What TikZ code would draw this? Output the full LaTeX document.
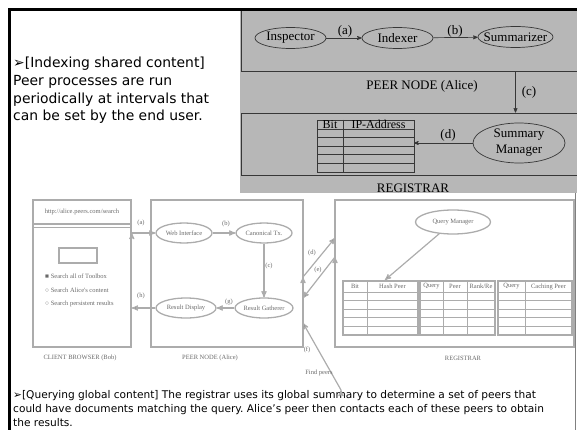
\documentclass[tikz,border=0pt]{standalone}
\usepackage{fontspec}
\setmainfont{DejaVu Sans}
\newfontfamily\figfont{Liberation Serif}
\usetikzlibrary{arrows}
\usetikzlibrary{shapes.geometric}
\usetikzlibrary{positioning}
\definecolor{panelgray}{RGB}{183,183,183}
\definecolor{boxline}{RGB}{55,55,55}
\definecolor{faintline}{RGB}{172,172,172}
\definecolor{fainttext}{RGB}{105,105,105}
\newcommand{\serifbig}{\figfont\fontsize{13}{16}\selectfont}
\newcommand{\seriftiny}{\figfont\fontsize{6.5}{7.5}\selectfont}
\frenchspacing

\begin{document}
\begin{tikzpicture}[x=1pt,y=-1pt,>=stealth',
    main node/.style={ellipse,draw=boxline,line width=0.7pt,inner sep=0pt,minimum width=71pt,minimum height=21pt,font=\serifbig},
    tag/.style={inner sep=0pt,font=\serifbig},
    sub node/.style={ellipse,draw=faintline,line width=1.3pt,inner sep=0pt,minimum width=56pt,minimum height=20pt,font=\seriftiny,text=fainttext},
    sub box/.style={rectangle,draw=faintline,line width=1.6pt,inner sep=0pt},
    sub tag/.style={inner sep=0pt,font=\seriftiny,text=fainttext},
    sub line/.style={draw=faintline,line width=1.2pt},
    grid line/.style={draw=boxline,line width=0.7pt}]
  \useasboundingbox (0,0) rectangle (577,430);

  % top right: peer node and registrar panel
  \fill[panelgray] (240,10) rectangle (577,193);
  \node[draw=boxline,line width=0.8pt,minimum width=336pt,minimum height=61pt,inner sep=0pt] (peerpanel) at (409,40.5) {};
  \node[draw=boxline,line width=0.8pt,minimum width=336pt,minimum height=62pt,inner sep=0pt] (regpanel) at (409,144) {};

  \node[main node] (insp) at (290.5,38) {Inspector};
  \node[main node] (indx) at (397.5,38) {Indexer};
  \node[main node,minimum width=75pt,label={[tag]center:Summarizer}] (summ) at (515.5,37) {};
  \node[main node,minimum width=92pt,minimum height=40pt,align=center] (sman) at (519,143) {Summary\\Manager};
  \coordinate (iptab) at (414,143);

  \path[->,boxline,line width=0.7pt] (insp) edge (indx);
  \path[->,boxline,line width=0.7pt] (indx) edge (summ);
  \path[->,boxline,line width=0.7pt] (peerpanel.south -| summ) edge (regpanel.north -| summ);
  \path[->,boxline,line width=0.7pt] (sman) edge (iptab);

  \node[tag] (la) at (345,31) {(a)};
  \node[tag] (lb) at (455,31) {(b)};
  \node[tag] (lc) at (529,92) {(c)};
  \node[tag] (ld) at (448,135) {(d)};
  \node[tag] (ptitle) at (422,86) {PEER NODE (Alice)};
  \node[tag,anchor=base] (rtitle) at (413,193) {REGISTRAR};

  % bit / ip table
  \draw[grid line] (317,120) rectangle (414,172);
  \foreach \y in {129,137.6,146.2,154.8,163.4}
    \draw[grid line] (317,\y) -- (414,\y);
  \draw[grid line] (343,120) -- (343,172);
  \node[tag,anchor=base,font=\figfont\fontsize{12}{14}\selectfont] (hbit) at (330,128.5) {Bit};
  \node[tag,anchor=base,font=\figfont\fontsize{12}{14}\selectfont] (hip) at (378.5,128.5) {IP-Address};

  % slide frame
  \draw[line width=3pt] (9.5,430) -- (9.5,9.5) -- (577,9.5);
  \draw[gray,line width=0.6pt] (575.5,193) -- (575.5,430);

  % slide texts
  \node[anchor=north west,inner sep=0pt,align=left,font=\fontsize{13.9}{17.7}\selectfont] (intro) at (13,57)
    {➢[Indexing shared content]\\Peer processes are run\\periodically at intervals that\\can be set by the end user.};
  \node[anchor=north west,inner sep=0pt,align=left,font=\fontsize{10.6}{14}\selectfont] (outro) at (13,390)
    {➢[Querying global content] The registrar uses its global summary to determine a set of peers that\\could have documents matching the query. Alice\symbol{39}s peer then contacts each of these peers to obtain\\the results.};

  % lower figure: browser, peer, registrar
  \node[sub box,minimum width=98pt,minimum height=147pt] (client) at (82,273.5) {};
  \node[sub box,minimum width=152pt,minimum height=147pt] (peer) at (227,273.5) {};
  \node[sub box,minimum width=239pt,minimum height=147pt] (reg) at (454.5,273.5) {};
  \node[sub tag] (ctitle) at (80,358) {CLIENT BROWSER (Bob)};
  \node[sub tag] (ntitle) at (210,358) {PEER NODE (Alice)};
  \node[sub tag] (gtitle) at (463,358) {REGISTRAR};

  % browser contents
  \draw[sub line] (client.north west |- 0,224) -- (client.north east |- 0,224);
  \draw[sub line,line width=0.6pt] (client.north west |- 0,227) -- (client.north east |- 0,227);
  \node[sub tag] (url) at (82,212) {http://alice.peers.com/search};
  \draw[sub line] (59,248) rectangle (97,263);
  \node[sub tag,anchor=west] (opta) at (45,276) {■ Search all of Toolbox};
  \node[sub tag,anchor=west] (optb) at (45,290) {○ Search Alice\symbol{39}s content};
  \node[sub tag,anchor=west] (optc) at (45,304) {○ Search persistent results};

  % peer contents
  \node[sub node] (web) at (184,233) {Web Interface};
  \node[sub node] (canon) at (264,233) {Canonical Tx.};
  \node[sub node] (gath) at (264,308) {Result Gatherer};
  \node[sub node,minimum width=60pt] (disp) at (186,308) {Result Display};

  \path[->,sub line] (client.east |- web) edge (web);
  \path[->,sub line] (web) edge (canon);
  \path[->,sub line] (canon) edge (gath);
  \path[->,sub line] (gath) edge (disp);
  \path[->,sub line] (disp) edge (client.east |- disp);
  \node[sub tag] (sa) at (141,223) {(a)};
  \node[sub tag] (sb) at (226,224) {(b)};
  \node[sub tag] (sc) at (269,266) {(c)};
  \node[sub tag] (sg) at (229,302) {(g)};
  \node[sub tag] (sh) at (141,296) {(h)};

  % registrar contents
  \node[sub node,minimum width=75pt,minimum height=24pt] (qman) at (453,222) {Query Manager};
  \coordinate (qtab) at (385,280);
  \path[->,sub line] (qman) edge (qtab);
  \foreach \xa/\xb in {343/418,420/495,498/572} {
    \draw[sub line] (\xa,281) rectangle (\xb,335);
    \foreach \y in {292,300.6,309.2,317.8,326.4}
      \draw[sub line,line width=0.8pt] (\xa,\y) -- (\xb,\y);
  }
  \foreach \x in {367,443,467,525}
    \draw[sub line,line width=0.8pt] (\x,281) -- (\x,335);
  \node[sub tag] (tbit) at (355,286.5) {Bit};
  \node[sub tag] (thash) at (392.5,286.5) {Hash Peer};
  \node[sub tag] (tqa) at (431.5,286.5) {Query};
  \node[sub tag] (tpeer) at (455,286.5) {Peer};
  \node[sub tag] (trank) at (481,286.5) {Rank/Re};
  \node[sub tag] (tqb) at (511.5,286.5) {Query};
  \node[sub tag] (tcache) at (548.5,286.5) {Caching Peer};

  % peer <-> registrar
  \coordinate (pd) at (303,277);
  \coordinate (rd) at (335,238);
  \coordinate (re) at (335,257);
  \coordinate (pe) at (303,298);
  \coordinate (pf) at (303,323);
  \coordinate (fend) at (341,390);
  \path[->,sub line] (pd) edge (rd);
  \path[->,sub line] (re) edge (pe);
  \path[->,sub line] (fend) edge (pf);
  \node[sub tag] (sd) at (312,253) {(d)};
  \node[sub tag] (se) at (318,270) {(e)};
  \node[sub tag] (sf) at (307,350) {(f)};
  \node[sub tag] (find) at (319,373) {Find peers};
\end{tikzpicture}
\end{document}
